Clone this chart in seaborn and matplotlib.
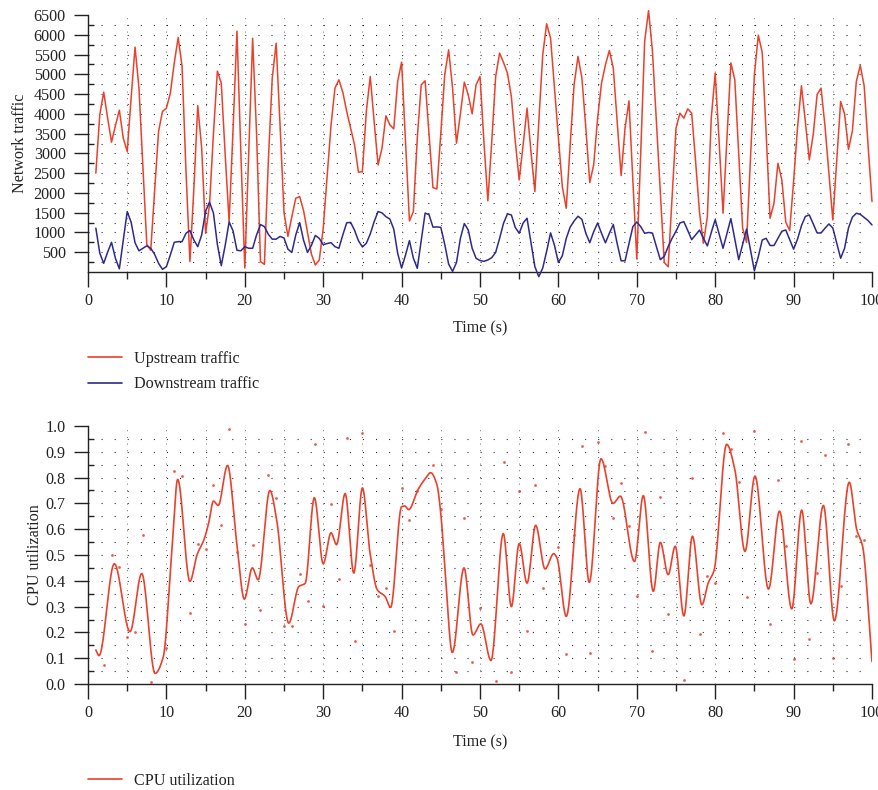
import numpy as np
import pandas as pd
import matplotlib
matplotlib.use("Agg")
import matplotlib.pyplot as plt
from matplotlib.lines import Line2D
from matplotlib.ticker import MultipleLocator, FixedLocator, FormatStrFormatter
import seaborn as sns

# ---------------- data ----------------
# traffic sampled every 0.5 s from 1 s to 100 s
time_s = np.arange(1.0, 100.01, 0.5)

upstream = [
    2500, 3975, 4549, 3900, 3283, 3705, 4093, 3384, 3047, 4400,
    5688, 4650, 2700, 700, 550, 2050, 3553, 4059, 4143, 4523,
    5283, 5930, 5198, 2540, 262, 2100, 4211, 3131, 979, 1700,
    3500, 5080, 4776, 2962, 1274, 3600, 6090, 3000, 100, 3000,
    5910, 3500, 262, 194, 2800, 4900, 5789, 3700, 1500, 900,
    1400, 1865, 1907, 1550, 1000, 450, 177, 304, 1100, 2400,
    3722, 4650, 4861, 4549, 4059, 3637, 3215, 2523, 2540, 4059,
    4945, 3800, 2709, 3131, 3949, 3722, 3620, 4818, 5308, 3300,
    1291, 1528, 3384, 4734, 4835, 3500, 2135, 2100, 3500, 4987,
    5620, 4650, 3257, 4000, 4802, 4481, 4000, 4734, 4945, 3300,
    1800, 3300, 4945, 5536, 5300, 5030, 4438, 3300, 2329, 3215,
    4144, 3047, 2033, 3800, 5494, 6278, 5916, 4650, 3400, 2160,
    1612, 3215, 4734, 5452, 4903, 3637, 2261, 2709, 3890, 4776,
    5240, 5603, 5156, 3806, 2439, 3637, 4329, 2300, 330, 3000,
    5831, 6610, 5578, 3800, 2000, 240, 134, 1900, 3637, 4017,
    3890, 4127, 4017, 2800, 1500, 726, 1400, 3900, 5030, 3300,
    1486, 3400, 5290, 4861, 3000, 1106, 750, 2900, 5000, 5990,
    5550, 3500, 1359, 1739, 2751, 2329, 1260, 1050, 2300, 3650,
    4710, 3800, 2835, 3470, 4490, 4650, 3700, 2500, 1316, 2800,
    4312, 4000, 3100, 3570, 4818, 5224, 4710, 3200, 1781,
]

downstream = [
    1110, 480, 219, 500, 751, 346, 80, 800, 1527, 1260,
    740, 536, 600, 662, 600, 447, 219, 68, 135, 430,
    751, 768, 768, 979, 1050, 810, 641, 937, 1540, 1765,
    1490, 700, 160, 675, 1265, 1040, 550, 536, 641, 600,
    600, 937, 1200, 1148, 954, 830, 830, 900, 860, 578,
    494, 937, 1250, 800, 495, 675, 925, 850, 690, 720,
    742, 641, 600, 937, 1245, 1255, 1055, 790, 633, 726,
    960, 1274, 1530, 1495, 1400, 1340, 1085, 473, 100, 430,
    794, 350, 93, 800, 1490, 1450, 1135, 1140, 1130, 700,
    200, 15, 240, 852, 1225, 1063, 600, 346, 290, 270,
    304, 363, 498, 850, 1232, 1470, 1443, 1127, 980, 1240,
    1359, 751, 135, -118, 100, 523, 990, 675, 240, 410,
    850, 1135, 1290, 1410, 1330, 979, 740, 1020, 1240, 979,
    738, 979, 1200, 717, 283, 283, 717, 1148, 1265, 1148,
    979, 1000, 983, 641, 312, 397, 641, 852, 1030, 1240,
    1274, 1050, 818, 940, 1060, 850, 660, 1000, 1325, 960,
    600, 980, 1350, 830, 312, 700, 1085, 560, 30, 388,
    810, 852, 670, 670, 850, 1030, 1063, 820, 578, 830,
    1170, 1405, 1443, 1220, 988, 988, 1106, 1215, 1114, 730,
    347, 600, 1114, 1388, 1486, 1460, 1380, 1300, 1190,
]

# CPU utilization: curve knots (time, value)
cpu_t = [
    1.0, 1.4, 3.36, 5.36, 6.85, 8.55, 9.6, 10.7, 11.44, 13.0,
    13.9, 14.8, 15.4, 16.0, 16.6, 17.8, 18.97, 19.94, 20.96, 21.7,
    23.2, 24.06, 25.6, 26.9, 27.7, 28.87, 30.0, 31.0, 31.7, 32.8,
    33.9, 35.0, 35.97, 36.9, 37.9, 38.6, 40.0, 40.4, 40.9, 42.1,
    43.0, 43.7, 44.5, 45.0, 45.5, 46.47, 47.96, 49.1, 50.1, 51.4,
    52.97, 54.0, 55.0, 56.0, 57.1, 58.3, 59.4, 59.8, 61.0, 62.76,
    63.94, 65.43, 66.97, 67.9, 69.7, 70.83, 72.1, 73.0, 74.0, 74.9,
    76.0, 77.1, 78.3, 79.1, 79.85, 81.46, 82.5, 83.8, 85.07, 86.8,
    88.2, 89.76, 91.03, 92.2, 93.8, 95.2, 97.1, 98.05, 98.8, 100.0,
]
cpu_u = [
    0.132, 0.110, 0.466, 0.203, 0.428, 0.041, 0.105, 0.520, 0.793, 0.398,
    0.500, 0.560, 0.625, 0.709, 0.692, 0.847, 0.547, 0.329, 0.450, 0.404,
    0.750, 0.637, 0.236, 0.378, 0.390, 0.722, 0.466, 0.586, 0.540, 0.738,
    0.430, 0.760, 0.508, 0.365, 0.339, 0.297, 0.687, 0.690, 0.676, 0.754,
    0.795, 0.819, 0.773, 0.660, 0.460, 0.122, 0.450, 0.190, 0.233, 0.091,
    0.583, 0.300, 0.544, 0.391, 0.615, 0.446, 0.505, 0.490, 0.262, 0.757,
    0.394, 0.873, 0.700, 0.728, 0.475, 0.730, 0.359, 0.549, 0.424, 0.534,
    0.264, 0.573, 0.307, 0.391, 0.440, 0.929, 0.832, 0.514, 0.806, 0.368,
    0.670, 0.291, 0.674, 0.311, 0.692, 0.245, 0.782, 0.599, 0.534, 0.087,
]

# raw CPU samples shown as dots
cpu_dot_t = [
    2, 3, 4, 5, 6, 7, 8, 10, 11, 12, 13, 14, 15, 16, 17, 18, 19, 20, 21, 22,
    23, 24, 25, 26, 27, 28, 29, 30, 31, 32, 33, 34, 35, 36, 37, 38, 39, 40,
    41, 42, 44, 45, 47, 48, 49, 50, 52, 53, 54, 55, 56, 57, 58, 60, 61, 62,
    63, 64, 65, 66, 67, 68, 69, 70, 71, 72, 73, 74, 76, 77, 78, 79, 80, 81,
    82, 83, 84, 85, 87, 88, 89, 90, 91, 92, 93, 94, 95, 96, 97, 98, 99,
]
cpu_dot_u = [
    0.074, 0.500, 0.452, 0.181, 0.200, 0.579, 0.009, 0.139, 0.825, 0.806,
    0.277, 0.543, 0.525, 0.770, 0.618, 0.987, 0.510, 0.233, 0.540, 0.285,
    0.810, 0.722, 0.226, 0.226, 0.426, 0.320, 0.929, 0.303, 0.696, 0.407,
    0.955, 0.165, 0.974, 0.462, 0.340, 0.372, 0.207, 0.760, 0.635, 0.750,
    0.848, 0.680, 0.048, 0.644, 0.087, 0.294, 0.013, 0.860, 0.048, 0.747,
    0.207, 0.773, 0.374, 0.530, 0.115, 0.579, 0.922, 0.122, 0.939, 0.845,
    0.644, 0.780, 0.611, 0.343, 0.977, 0.126, 0.724, 0.271, 0.016, 0.800,
    0.194, 0.417, 0.390, 0.974, 0.912, 0.782, 0.337, 0.981, 0.232, 0.790,
    0.534, 0.096, 0.942, 0.175, 0.430, 0.887, 0.100, 0.381, 0.932, 0.573,
    0.560,
]

assert len(upstream) == len(time_s) == len(downstream)

RED = "#E9412C"
BLUE = "#2E2A8C"
INK = "#222222"
FS = 11.6


def pchip(x, y, xs):
    """Shape-preserving cubic through the knots (x, y)."""
    x = np.asarray(x, float)
    y = np.asarray(y, float)
    h = np.diff(x)
    d = np.diff(y) / h
    m = np.zeros_like(y)
    for k in range(1, len(x) - 1):
        if d[k - 1] * d[k] > 0:
            w1 = 2 * h[k] + h[k - 1]
            w2 = h[k] + 2 * h[k - 1]
            m[k] = (w1 + w2) / (w1 / d[k - 1] + w2 / d[k])
    m[0], m[-1] = d[0], d[-1]
    idx = np.clip(np.searchsorted(x, xs) - 1, 0, len(x) - 2)
    hk = h[idx]
    s = (xs - x[idx]) / hk
    h00 = 2 * s**3 - 3 * s**2 + 1
    h10 = s**3 - 2 * s**2 + s
    h01 = -2 * s**3 + 3 * s**2
    h11 = s**3 - s**2
    return h00 * y[idx] + h10 * hk * m[idx] + h01 * y[idx + 1] + h11 * hk * m[idx + 1]


# ---------------- style ----------------
sns.set_style("ticks")
plt.rcParams["font.family"] = ["Liberation Serif", "DejaVu Serif"]
plt.rcParams["font.size"] = FS
plt.rcParams["lines.scale_dashes"] = False
plt.rcParams["axes.edgecolor"] = INK
plt.rcParams["text.color"] = INK
plt.rcParams["axes.labelcolor"] = INK
plt.rcParams["xtick.color"] = INK
plt.rcParams["ytick.color"] = INK

fig = plt.figure(figsize=(8.79, 7.90), dpi=100)
W, H = 879.0, 790.0
ax1 = fig.add_axes([88 / W, 1 - 272 / H, 784 / W, 257 / H])
ax2 = fig.add_axes([88 / W, 1 - 684 / H, 784 / W, 258 / H])

HDOT = (0, (0.75, 8.66))   # dots every 5/3 s along the rows
VDOT = (0, (0.6, 4.2))     # sparser dots along the 5 s columns


def dotted_grid(ax, rows, cols):
    for yv in rows:
        ax.axhline(yv, color=INK, lw=0.8, ls=HDOT, zorder=0)
    for xv in cols:
        ax.axvline(xv, color="#555555", lw=0.7, ls=VDOT, zorder=0)


def style_axes(ax):
    sns.despine(ax=ax)
    for sp in ("left", "bottom"):
        ax.spines[sp].set_linewidth(1.0)
    ax.set_xlim(0, 100)
    ax.xaxis.set_major_locator(MultipleLocator(10))
    ax.xaxis.set_minor_locator(MultipleLocator(5))
    ax.tick_params(axis="x", which="major", direction="out", length=11, width=1.0, pad=4, labelsize=FS)
    ax.tick_params(axis="x", which="minor", direction="out", length=5, width=1.0)
    ax.tick_params(axis="y", which="major", direction="out", length=10, width=1.0, pad=6, labelsize=FS)
    ax.tick_params(axis="y", which="minor", direction="in", length=4, width=1.0)


# ---------------- network traffic ----------------
dotted_grid(ax1, np.arange(250, 6500, 250), np.arange(5, 100, 5))
traffic = pd.DataFrame({"t": time_s, "up": upstream, "down": downstream})
sns.lineplot(data=traffic, x="t", y="up", ax=ax1, color=RED, lw=1.1, legend=False, zorder=3)
sns.lineplot(data=traffic, x="t", y="down", ax=ax1, color=BLUE, lw=1.1, legend=False, zorder=3)
for ln in ax1.lines[-2:]:
    ln.set_clip_on(False)
style_axes(ax1)
ax1.set_ylim(0, 6500)
ax1.yaxis.set_major_locator(FixedLocator(np.arange(500, 6501, 500)))
ax1.yaxis.set_minor_locator(FixedLocator(np.arange(250, 6500, 500)))
ax1.set_xlabel("Time (s)", fontsize=FS, labelpad=8)
ax1.set_ylabel("Network traffic", fontsize=FS, labelpad=4)

# ---------------- CPU utilization ----------------
dotted_grid(ax2, np.arange(0.05, 0.96, 0.05), np.arange(5, 100, 5))
t_fine = np.linspace(cpu_t[0], cpu_t[-1], 3000)
cpu_curve = pd.DataFrame({"t": t_fine, "u": pchip(cpu_t, cpu_u, t_fine)})
sns.lineplot(data=cpu_curve, x="t", y="u", ax=ax2, color=RED, lw=1.2,
             estimator=None, sort=False, legend=False, zorder=3)
sns.scatterplot(x=cpu_dot_t, y=cpu_dot_u, ax=ax2, color=RED, s=4, linewidth=0,
                alpha=0.85, legend=False, zorder=2)
style_axes(ax2)
ax2.set_ylim(0, 1.0)
ax2.yaxis.set_major_locator(MultipleLocator(0.1))
ax2.yaxis.set_minor_locator(FixedLocator(np.arange(0.05, 1.0, 0.1)))
ax2.yaxis.set_major_formatter(FormatStrFormatter("%.1f"))
ax2.set_xlabel("Time (s)", fontsize=FS, labelpad=10)
ax2.set_ylabel("CPU utilization", fontsize=FS, labelpad=2)

# ---------------- legends ----------------
leg_kw = dict(loc="upper left", frameon=False, fontsize=FS, handlelength=2.1,
              handletextpad=0.75, labelspacing=0.58, borderpad=0, borderaxespad=0)
fig.legend(handles=[Line2D([], [], color=RED, lw=1.2), Line2D([], [], color=BLUE, lw=1.2)],
           labels=["Upstream traffic", "Downstream traffic"],
           bbox_to_anchor=(88 / W, 1 - 351 / H), **leg_kw)
fig.legend(handles=[Line2D([], [], color=RED, lw=1.2)], labels=["CPU utilization"],
           bbox_to_anchor=(88 / W, 1 - 773 / H), **leg_kw)

fig.savefig("out.png", dpi=100)
